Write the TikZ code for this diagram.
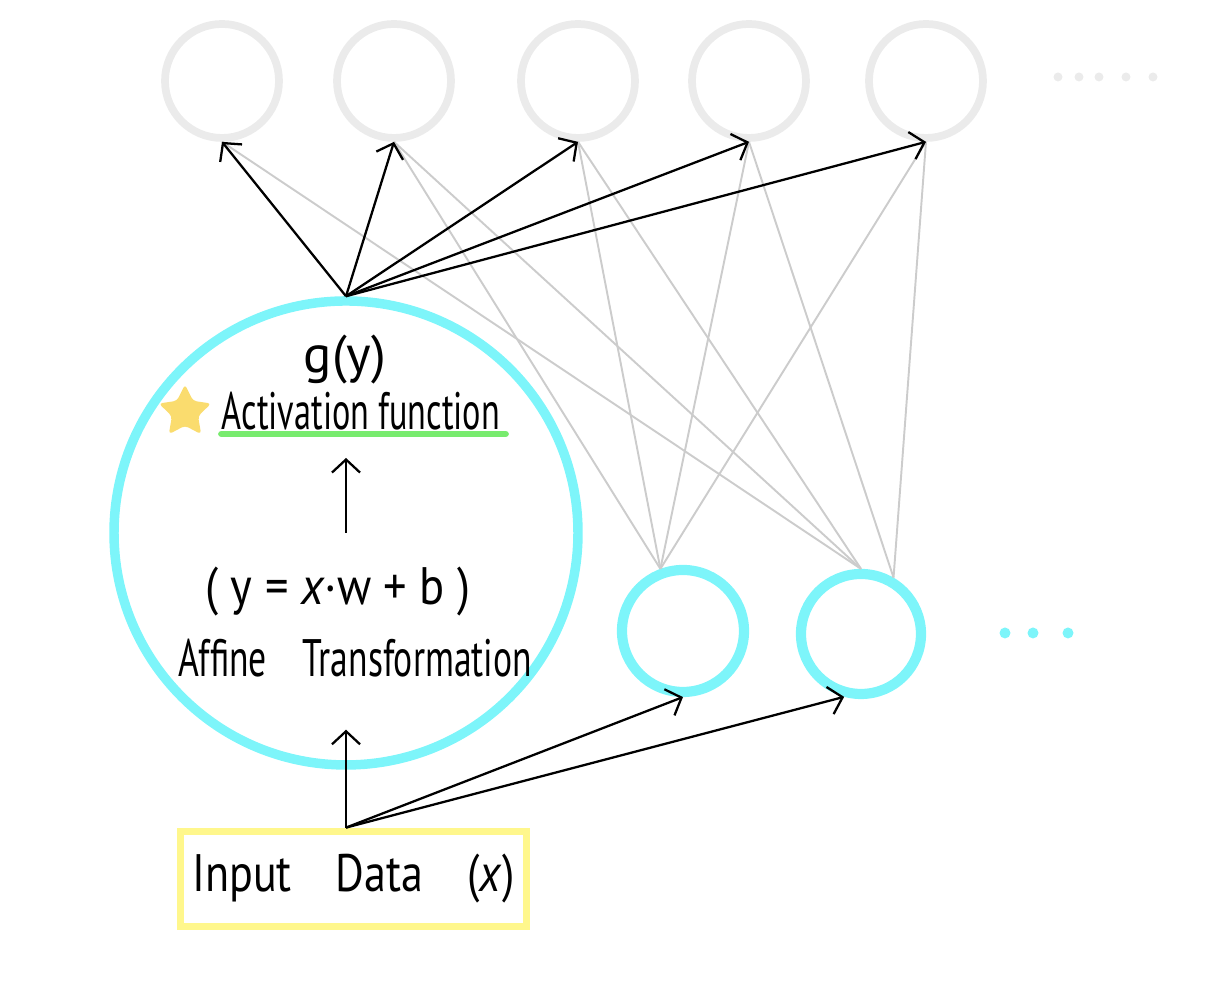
\documentclass[tikz,border=0pt]{standalone}
\usepackage{fontspec}
\setmainfont{PT Sans}
\usepackage{graphicx}
\usetikzlibrary{arrows.meta,shapes.geometric,calc}

\definecolor{neuroncyan}{HTML}{7DF5FA}
\definecolor{outgray}{HTML}{EBEBEB}
\definecolor{wiregray}{HTML}{CCCCCC}
\definecolor{boxyellow}{HTML}{FFF78C}
\definecolor{markgreen}{HTML}{78EB6E}
\definecolor{stargold}{HTML}{FADC6E}

% squeeze a text to a given width, keep its height
\newcommand{\squeezed}[2]{\resizebox{#1}{\height}{#2}}

\tikzset{
  outneuron/.style={circle, draw=outgray, line width=2.2pt, minimum size=1.14cm, inner sep=0pt},
  hidneuron/.style={circle, draw=neuroncyan, line width=2.9pt, minimum size=1.22cm, inner sep=0pt},
  arr/.style={-{Straight Barb[length=1.3mm,width=2.8mm]}, line width=0.65pt},
  wire/.style={draw=wiregray, line width=0.55pt},
  hand/.style={font=\fontsize{15}{17}\selectfont, inner sep=0pt},
}

\begin{document}
\begin{tikzpicture}
    \useasboundingbox (0,0) rectangle (12.17,10);

    % Output layer
    \foreach \x [count=\i] in {2.22,3.94,5.78,7.49,9.26} {
        \node[outneuron] (o\i) at (\x,9.19) {};
    }
    \foreach \x in {10.58,10.79,10.99,11.26,11.53} {
        \fill[outgray] (\x,9.23) circle (0.045);
    }

    % The neuron, blown up
    \node[circle, draw=neuroncyan, line width=2.7pt, minimum size=4.64cm, inner sep=0pt] (big) at (3.46,4.67) {};

    % Other neurons of the layer
    \node[hidneuron] (h1) at (6.83,3.69) {};
    \node[hidneuron, minimum size=1.2cm] (h2) at (8.61,3.66) {};
    \foreach \x in {10.05,10.33,10.68} {
        \fill[neuroncyan] (\x,3.67) circle (0.055);
    }

    % Input
    \node[draw=boxyellow, line width=2.2pt, minimum width=3.46cm, minimum height=0.95cm, inner sep=0pt, hand] (inp) at (3.535,1.21)
        {\squeezed{3.22cm}{Input\quad Data\quad (\textit{x})}};

    % Inside the neuron
    \node[hand] (gy) at (3.45,6.40) {g(y)};
    \node[hand, anchor=south] (act) at (3.61,5.69) {\squeezed{2.78cm}{Activation function}};
    \draw[markgreen, line width=1.8pt, line cap=round]
        ($(act.south west)+(0,-0.03)$) -- ($(act.south east)+(0.05,-0.03)$);
    \node[star, star points=5, star point ratio=2, fill=stargold, minimum size=0.55cm, inner sep=0pt, rounded corners=1pt] (star) at (1.85,5.88) {};
    \node[hand] (eq) at (3.38,4.08) {\squeezed{2.65cm}{(\ y\ =\ \textit{x}·w\ +\ b\ )}};
    \node[hand] (aff) at (3.55,3.42) {\squeezed{3.54cm}{Affine\quad Transformation}};
    \coordinate (actin) at ($(big.center)+(0,0.75)$);
    \draw[arr] (big.center) -- (actin);

    % Weights of the other neurons
    \foreach \i in {2,...,5} {
        \draw[wire] (o\i.south) -- (h1.110);
    }
    \foreach \i in {1,2,3} {
        \draw[wire] (o\i.south) -- (h2.north);
    }
    \foreach \i in {4,5} {
        \draw[wire] (o\i.south) -- (h2.60);
    }

    % Output of the neuron
    \foreach \i in {1,...,5} {
        \draw[arr] (big.north) -- (o\i.south);
    }

    % Input to the layer
    \coordinate (src) at (inp.north -| big.south);
    \coordinate (bigin) at ($(big.south)+(0,0.4)$);
    \draw[arr] (src) -- (bigin);
    \draw[arr] (src) -- (h1.south);
    \draw[arr] (src) -- (h2.255);
\end{tikzpicture}
\end{document}
